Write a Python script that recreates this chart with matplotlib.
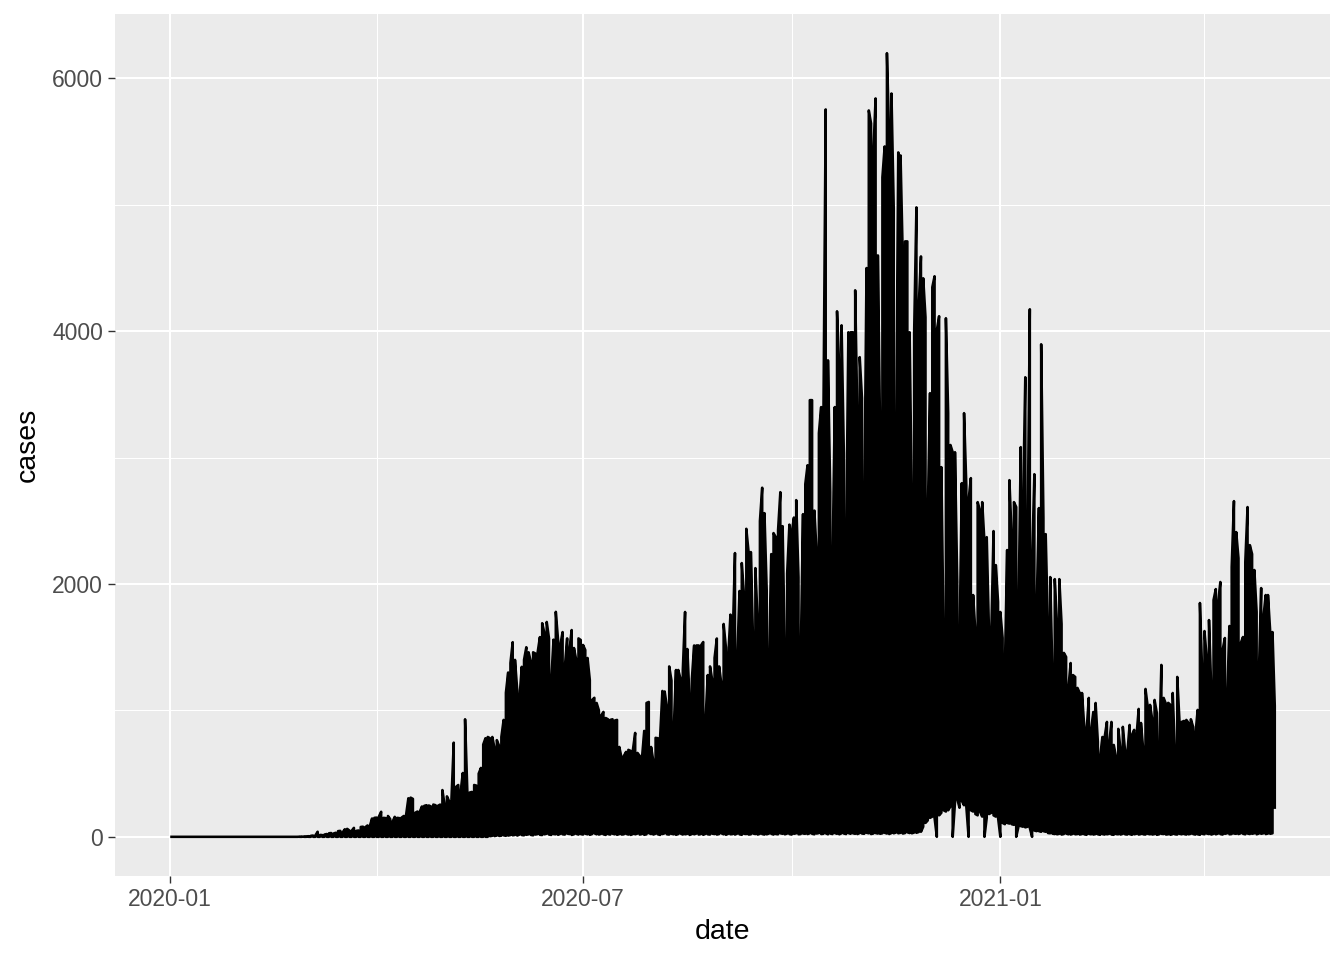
import numpy as np
import pandas as pd
import matplotlib
matplotlib.use("Agg")
import matplotlib.pyplot as plt

plt.rcParams["path.simplify"] = False
plt.rcParams["font.family"] = ["Liberation Sans", "DejaVu Sans"]

start_date = "2020-01-01"

# daily upper envelope of the reported values (all groups pooled per date)
high = [0] * 56 + [
    0, 1, 1, 2, 3, 5, 8, 10, 12, 40,
    15, 14, 18, 22, 28, 30, 26, 32, 45, 47,
    35, 60, 63, 50, 48, 71, 47, 50, 78, 80,
    76, 90, 85, 145, 150, 152, 160, 198, 150, 148,
    165, 140, 119, 158, 150, 148, 152, 165, 174, 305,
    310, 300, 190, 200, 198, 240, 245, 250, 248, 240,
    255, 250, 245, 255, 370, 250, 320, 280, 300, 745,
    395, 410, 350, 505, 930, 355, 350, 355, 410, 405,
    500, 545, 730, 780, 790, 780, 790, 700, 765, 720,
    790, 925, 1140, 1300, 1375, 1540, 1400, 1160, 1100, 1345,
    1400, 1500, 1460, 1385, 1460, 1450, 1460, 1580, 1690, 1610,
    1700, 1570, 1240, 1560, 1780, 1557, 1518, 1620, 1345, 1570,
    1480, 1636, 1494, 1400, 1570, 1557, 1518, 1478, 1415, 1240,
    1083, 1100, 1059, 1000, 960, 988, 940, 930, 925, 930,
    920, 925, 711, 624, 640, 672, 688, 680, 688, 822,
    664, 640, 624, 838, 1059, 1067, 711, 600, 783, 780,
    790, 1154, 1150, 1028, 1348, 1236, 846, 1320, 1320, 1249,
    1320, 1779, 1486, 1083, 1249, 1514, 1514, 1514, 1514, 1541,
    917, 1280, 1348, 1236, 1415, 1569, 1348, 1210, 1684, 1500,
    1415, 1758, 1569, 2245, 1403, 1945, 2166, 1905, 2437, 2253,
    2253, 1526, 2126, 1707, 2498, 2762, 2561, 1945, 1372, 2237,
    2403, 2371, 2427, 2727, 2458, 1435, 2082, 2470, 2403, 2526,
    2664, 2055, 1435, 2553, 2790, 2940, 3455, 3455, 2581, 2249,
    3194, 3400, 3328, 5755, 3770, 2727, 2127, 3400, 4158, 3692,
    4047, 3035, 2285, 3992, 3992, 3992, 4324, 3272, 3795, 3470,
    2545, 4500, 5747, 5644, 5407, 5842, 4600, 3178, 5218, 5462,
    6200, 5526, 5881, 4972, 3035, 5415, 5391, 4569, 4711, 4711,
    3992, 2609, 3992, 4980, 4190, 4592, 4419, 4111, 2545, 3510,
    4348, 4435, 4008, 4119, 2925, 1541, 4103, 3352, 3100, 3043,
    3043, 2016, 1502, 2798, 3352, 2782, 2664, 2838, 1913, 1620,
    2648, 2585, 2648, 2332, 2371, 1620, 1600, 2419, 2150, 1858,
    1779, 1573, 1320, 2269, 2822, 2371, 2648, 2609, 1771, 3083,
    2601, 3636, 2332, 4174, 2174, 2869, 1810, 2601, 3897, 2522,
    2395, 1640, 2055, 1265, 2039, 1676, 2039, 1684, 1455, 1423,
    1178, 1375, 1280, 1265, 1178, 1138, 1138, 870, 830, 1099,
    846, 988, 1059, 751, 632, 790, 790, 909, 743, 909,
    727, 632, 854, 688, 870, 680, 664, 885, 806, 846,
    790, 1012, 901, 688, 1170, 1028, 1044, 925, 1083, 980,
    664, 1360, 1099, 1052, 1060, 1044, 1138, 664, 1265, 909,
    909, 917, 925, 901, 930, 870, 806, 1004, 1850, 1296,
    1628, 1415, 1715, 1162, 1873, 1960, 1850, 2016, 1478, 1573,
    1099, 1668, 2134, 2656, 2411, 2205, 1533, 1581, 2174, 2609,
    2308, 2237, 2111, 1779, 1296, 1968, 1739, 1913, 1913, 1620,
    1620, 1036,
]

# daily lower envelope
low = [0] * 141 + [
    5, 8, 6, 10, 7, 9, 12, 8, 10, 14,
    12, 15, 10, 18, 14, 12, 16, 20, 15, 12,
    18, 22, 16, 14, 20, 25, 18, 15, 22, 20,
    16, 24, 20, 18, 26, 22, 15, 20, 24, 18,
    22, 18, 25, 20, 16, 22, 28, 20, 18, 24,
    20, 15, 22, 18, 25, 20, 16, 22, 18, 20,
    24, 18, 15, 22, 20, 26, 18, 22, 16, 20,
    30, 22, 18, 25, 20, 15, 22, 28, 20, 18,
    24, 20, 16, 22, 26, 18, 20, 24, 15, 22,
    20, 26, 18, 22, 16, 24, 20, 18, 25, 22,
    18, 22, 28, 20, 16, 24, 20, 22, 18, 26,
    20, 16, 24, 22, 18, 20, 26, 22, 18, 24,
    22, 18, 20, 26, 24, 18, 22, 20, 28, 24,
    20, 26, 22, 18, 24, 28, 20, 22, 26, 24,
    22, 28, 24, 20, 26, 30, 22, 24, 28, 20,
    26, 22, 30, 24, 20, 28, 26, 22, 30, 24,
    28, 24, 22, 30, 26, 24, 32, 28, 22, 26,
    30, 26, 24, 28, 32, 26, 22, 30, 28, 34,
    28, 32, 26, 30, 36, 30, 28, 34, 32, 38,
    40, 80, 110, 130, 150, 160, 150, 0, 170, 190,
    210, 200, 210, 240, 0, 270, 300, 230, 285, 250,
    240, 0, 210, 200, 180, 170, 200, 160, 0, 150,
    180, 190, 170, 160, 150, 0, 110, 100, 110, 105,
    100, 95, 0, 80, 85, 80, 75, 80, 70, 0,
    50, 45, 45, 40, 45, 40, 30, 28, 25, 22,
    20, 24, 18, 22, 26, 20, 18, 24, 20, 22,
    18, 22, 20, 16, 24, 20, 18, 22, 20, 16,
    22, 18, 20, 24, 18, 16, 22, 20, 18, 24,
    20, 18, 22, 16, 20, 24, 18, 22, 20, 18,
    24, 20, 18, 22, 16, 20, 24, 22, 18, 20,
    16, 22, 20, 18, 24, 20, 22, 18, 20, 24,
    22, 18, 20, 16, 24, 20, 26, 22, 18, 24,
    20, 26, 22, 18, 24, 28, 20, 22, 26, 24,
    22, 28, 24, 20, 26, 22, 24, 28, 20, 26,
    24, 28, 22, 26, 24, 28, 221,
]

x_major = ["2020-01-01", "2020-07-01", "2021-01-01"]
x_major_labels = ["2020-01", "2020-07", "2021-01"]
x_minor = ["2020-04-01", "2020-10-01", "2021-04-01"]
y_major = [0, 2000, 4000, 6000]
y_minor = [1000, 3000, 5000]

n = min(len(high), len(low))
dates = pd.date_range(start_date, periods=n, freq="D")

xs, ys = [], []
for i in range(n):
    pair = (low[i], high[i]) if i % 2 == 0 else (high[i], low[i])
    xs.extend([dates[i], dates[i]])
    ys.extend(pair)

fig = plt.figure(figsize=(13.44, 9.6), dpi=100)
fig.patch.set_facecolor("white")
ax = fig.add_axes([115 / 1344, (960 - 876) / 960, (1330 - 115) / 1344, (876 - 14) / 960])
ax.set_facecolor("#EBEBEB")

ax.plot(xs, ys, color="black", lw=1.85, solid_joinstyle="round", solid_capstyle="butt", zorder=3)

span = dates[-1] - dates[0]
ax.set_xlim(dates[0] - 0.05 * span, dates[-1] + 0.05 * span)
ymin, ymax = min(low[:n]), max(high[:n])
yr = ymax - ymin
ax.set_ylim(ymin - 0.05 * yr, ymax + 0.05 * yr)

ax.set_xticks(pd.to_datetime(x_major))
ax.set_xticklabels(x_major_labels)
ax.set_xticks(pd.to_datetime(x_minor), minor=True)
ax.set_yticks(y_major)
ax.set_yticklabels([str(v) for v in y_major])
ax.set_yticks(y_minor, minor=True)

ax.grid(True, which="major", color="white", lw=1.5, zorder=0)
ax.grid(True, which="minor", color="white", lw=0.75, zorder=0)
ax.set_axisbelow(True)

for s in ax.spines.values():
    s.set_visible(False)

ax.tick_params(axis="both", which="major", length=5, width=1.0, color="#333333",
               labelsize=16.5, labelcolor="#4D4D4D", pad=3.5)
ax.tick_params(axis="both", which="minor", length=0)

ax.set_xlabel("date", fontsize=20.5, color="black", labelpad=6)
ax.set_ylabel("cases", fontsize=20.5, color="black", labelpad=8)

fig.savefig("out.png", dpi=100, facecolor="white")
